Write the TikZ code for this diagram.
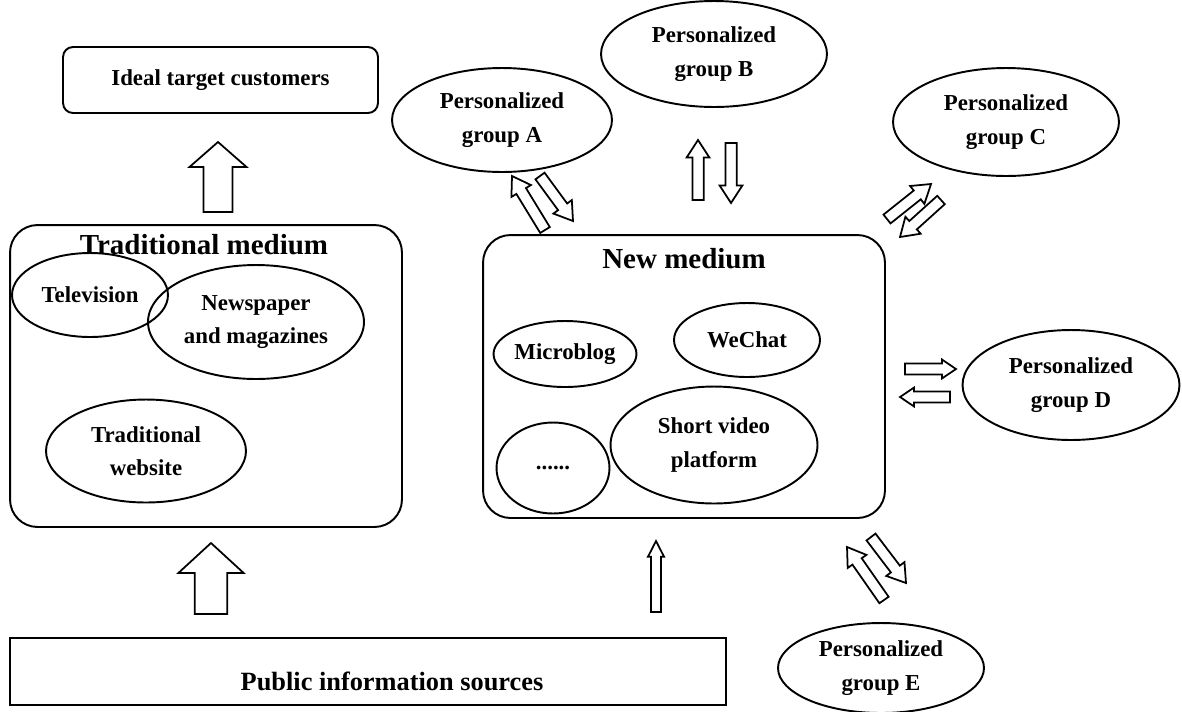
\documentclass[tikz,border=0pt]{standalone}
\usepackage{fontspec}
\setmainfont{Liberation Serif}
\usetikzlibrary{shapes.geometric, calc}

\tikzset{
  outline/.style={draw, line width=1.1pt},
  mediabox/.style={outline, rounded corners=0.55cm, inner sep=0pt},
  channel/.style={outline, ellipse, inner sep=0pt, align=center, font=\fontsize{13}{19}\selectfont\bfseries},
  title/.style={font=\fontsize{16.5}{20}\selectfont\bfseries},
  hollow/.style={draw, line width=1pt, fill=white, line join=miter},
}

% hollow block arrow: tail, tip, shaft half width, head half width, head length
\newcommand{\hollowarrow}[5]{%
  \coordinate (ha-base) at ($(#2)!#5!(#1)$);
  \draw[hollow] ($(#1)!#3!90:(#2)$) -- ($(ha-base)!#3!90:(#2)$) -- ($(ha-base)!#4!90:(#2)$) -- (#2)
    -- ($(ha-base)!#4!-90:(#2)$) -- ($(ha-base)!#3!-90:(#2)$) -- ($(#1)!#3!-90:(#2)$) -- cycle;
}

\begin{document}
\begin{tikzpicture}[x=0.02cm, y=-0.02cm]
    \useasboundingbox (0,0) rectangle (1182,711);

    % Top target box
    \node[outline, rounded corners=0.2cm, minimum width=6.3cm, minimum height=1.32cm,
          font=\fontsize{13}{16}\selectfont\bfseries] (ideal) at (220.5,80) {Ideal target customers};

    % Traditional medium
    \node[mediabox, minimum width=7.84cm, minimum height=6.04cm] (trad) at (206,376) {};
    \node[title] (tradtitle) at (204,245) {Traditional medium};
    \node[channel, minimum width=3.12cm, minimum height=1.68cm] (tv) at (90,295) {Television};
    \node[channel, minimum width=4.32cm, minimum height=2.28cm] (paper) at (256,322) {Newspaper\\and magazines};
    \node[channel, minimum width=4.0cm, minimum height=2.06cm] (web) at (146,451) {Traditional\\website};

    % New medium
    \node[mediabox, minimum width=8.04cm, minimum height=5.66cm] (new) at (684,376.5) {};
    \node[title] (newtitle) at (684,259) {New medium};
    \node[channel, minimum width=2.2cm, minimum height=1.32cm] (blog) at (565,354) {Microblog};
    \node[channel, minimum width=2.92cm, minimum height=1.48cm] (wechat) at (747,340) {WeChat};
    \node[channel, minimum width=2.26cm, minimum height=1.82cm] (dots) at (553,468) {......};
    \node[channel, minimum width=4.14cm, minimum height=2.34cm] (video) at (714,445) {Short video\\platform};

    % Public sources
    \node[outline, minimum width=14.32cm, minimum height=1.34cm] (public) at (368,671.5) {};
    \node[font=\fontsize{15}{18}\selectfont\bfseries] (publictext) at (392,681) {Public information sources};

    % Personalized groups
    \node[channel, minimum width=4.4cm, minimum height=2.08cm] (grpA) at (502,120) {Personalized\\group A};
    \node[channel, minimum width=4.52cm, minimum height=2.12cm] (grpB) at (714,54) {Personalized\\group B};
    \node[channel, minimum width=4.52cm, minimum height=2.16cm] (grpC) at (1006,122) {Personalized\\group C};
    \node[channel, minimum width=4.34cm, minimum height=2.2cm] (grpD) at (1071,385) {Personalized\\group D};
    \node[channel, minimum width=4.12cm, minimum height=1.8cm] (grpE) at (881,668) {Personalized\\group E};

    % Block arrows
    \hollowarrow{218,212}{218,142}{8.2pt}{16.2pt}{14.2pt}
    \hollowarrow{211,614}{211,543}{9.2pt}{18.5pt}{17pt}
    \hollowarrow{656,612}{656,541}{2.8pt}{4.6pt}{9pt}

    \hollowarrow{545,230}{512,176}{3.2pt}{6.5pt}{10pt}
    \hollowarrow{540,176}{573,221}{3.2pt}{6.5pt}{10pt}
    \hollowarrow{698,200}{698,140}{3.2pt}{6.5pt}{10pt}
    \hollowarrow{731,143}{731,203}{3.2pt}{6.5pt}{10pt}
    \hollowarrow{887,219}{931,184}{3.2pt}{6.5pt}{10pt}
    \hollowarrow{941,200}{900,237}{3.2pt}{6.5pt}{10pt}
    \hollowarrow{905,369}{956,369}{3.1pt}{5.4pt}{8pt}
    \hollowarrow{950,397}{900,397}{3.1pt}{5.4pt}{8pt}
    \hollowarrow{884,600}{847,547}{3.2pt}{6.5pt}{10pt}
    \hollowarrow{871,537}{906,583}{3.2pt}{6.5pt}{10pt}
\end{tikzpicture}
\end{document}
